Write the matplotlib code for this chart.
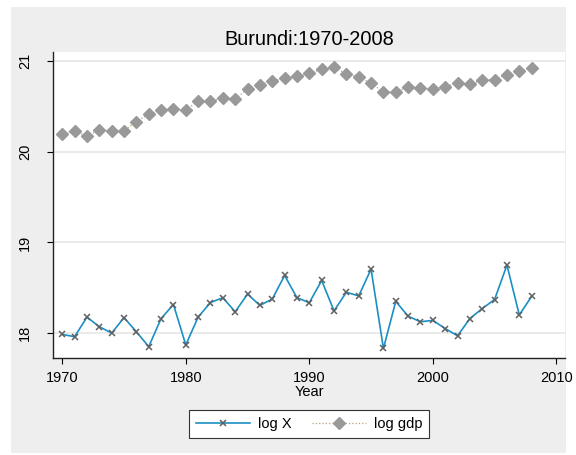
import matplotlib
matplotlib.use('Agg')
import matplotlib.pyplot as plt
from matplotlib.patches import Rectangle

plt.rcParams['font.family'] = ['Liberation Sans', 'DejaVu Sans']

years = list(range(1970, 2009))

log_x = [17.985, 17.96, 18.176, 18.07, 18.0, 18.17, 18.015, 17.85, 18.16, 18.315,
         17.87, 18.176, 18.337, 18.39, 18.235, 18.43, 18.305, 18.375, 18.635, 18.39,
         18.335, 18.58, 18.245, 18.45, 18.41, 18.705, 17.83, 18.35, 18.185, 18.125,
         18.14, 18.05, 17.97, 18.16, 18.27, 18.37, 18.75, 18.2, 18.405]

log_gdp = [20.195, 20.23, 20.17, 20.24, 20.23, 20.23, 20.33, 20.415, 20.46, 20.47,
           20.46, 20.56, 20.56, 20.59, 20.585, 20.69, 20.74, 20.78, 20.81, 20.83,
           20.865, 20.91, 20.93, 20.86, 20.825, 20.755, 20.66, 20.66, 20.715, 20.70,
           20.69, 20.715, 20.76, 20.745, 20.79, 20.795, 20.85, 20.885, 20.925]

xticks = [1970, 1980, 1990, 2000, 2010]
yticks = [18, 19, 20, 21]

fig = plt.figure(figsize=(5.76, 4.55), dpi=100, facecolor='white')
# grey graph region like the Stata export
fig.patches.append(Rectangle((11/576, 2/455), 555/576, 446/455, transform=fig.transFigure,
                             facecolor='#eeeeee', edgecolor='none', zorder=-5))

ax = fig.add_axes([53/576, 1 - 358/455, 512/576, 306/455])
ax.set_facecolor('white')

ax.plot(years, log_x, color='#1b8fc4', lw=1.2, marker='x', ms=4, mew=1.1,
        mec='#606060', label='log X')
ax.plot(years, log_gdp, color='#b8a07c', lw=0.9, ls=':', marker='D', ms=6.5,
        mfc='#999999', mec='#999999', label='log gdp')

ax.set_xlim(1969.25, 2010.7)
ax.set_ylim(17.725, 21.1)
ax.set_xticks(xticks)
ax.set_yticks(yticks)
ax.grid(axis='y', color='#e6e6e6', lw=1.2)
ax.set_axisbelow(True)

for s in ['top', 'right']:
    ax.spines[s].set_visible(False)
for s in ['left', 'bottom']:
    ax.spines[s].set_color('#222222')
    ax.spines[s].set_linewidth(1.0)

ax.tick_params(axis='y', length=4, width=0.8, pad=11, labelsize=10.5, labelrotation=90)
ax.tick_params(axis='x', length=4, width=0.8, pad=5, labelsize=10.5)
for lab in ax.get_yticklabels():
    lab.set_va('center')

ax.set_xlabel('Year', fontsize=10.5, labelpad=0)
ax.set_title('Burundi:1970-2008', fontsize=14.4, pad=5)

leg = fig.legend(loc='center', bbox_to_anchor=(309/576, 1 - 424/455), ncol=2,
                 fontsize=10.5, frameon=True, fancybox=False, edgecolor='#333333',
                 facecolor='white', framealpha=1, handlelength=3.7,
                 handletextpad=0.55, columnspacing=1.4, borderpad=0.45,
                 borderaxespad=0)
leg.get_frame().set_linewidth(0.8)

fig.savefig('out.png', dpi=100, facecolor='white')
